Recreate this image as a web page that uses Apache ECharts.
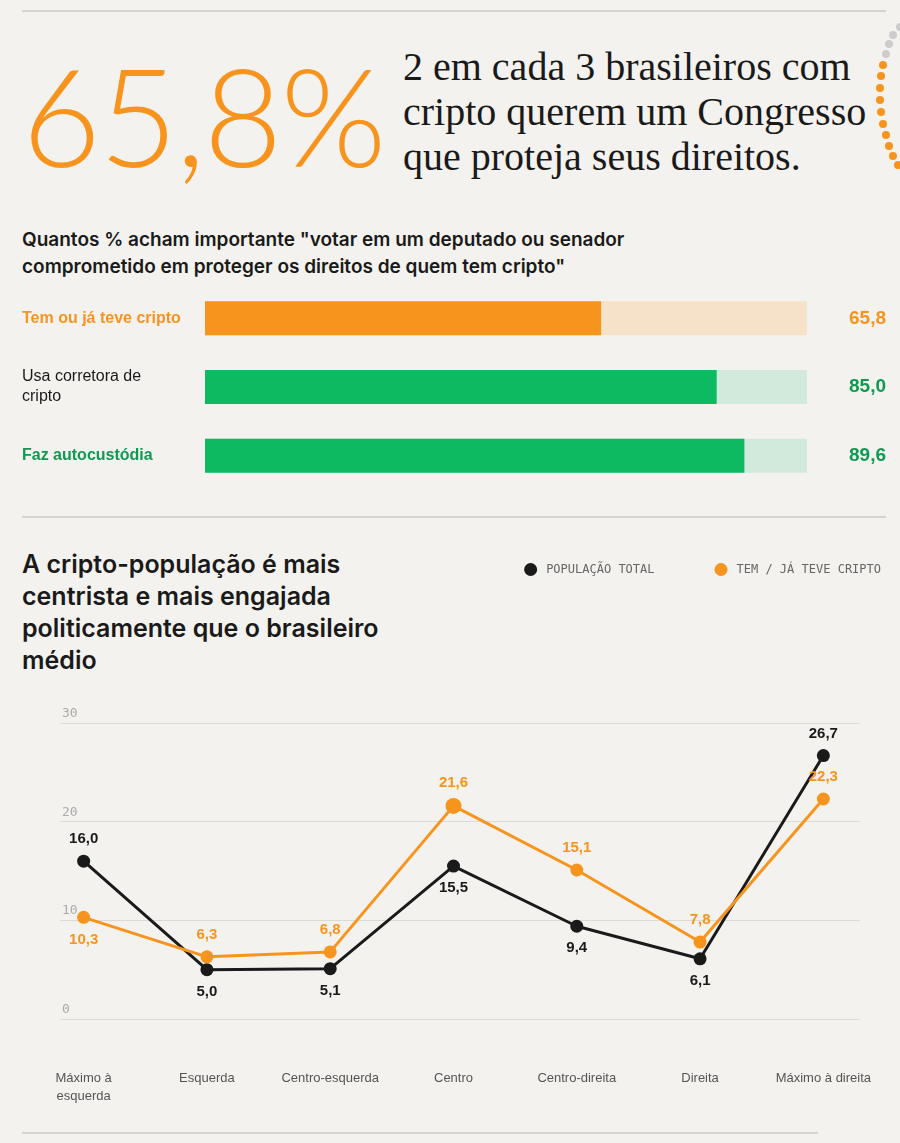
<!DOCTYPE html>
<html><head><meta charset="utf-8">
<script src="https://cdn.jsdelivr.net/npm/echarts@6/dist/echarts.min.js"></script>
<style>
body{margin:0;background:#f4f2ee;width:900px;height:1143px;position:relative;overflow:hidden;font-family:Inter,"Noto Sans",sans-serif;}
.hr{position:absolute;height:2px;background:#d6d4cf;}
#big{position:absolute;left:22px;top:40px;font-family:"Lato","Open Sans",sans-serif;font-weight:300;font-size:136px;line-height:150px;color:#f7941d;letter-spacing:-2px;}
#sub{position:absolute;left:403px;top:44px;font-family:"Liberation Serif",serif;font-size:40px;line-height:45px;color:#1a1a1a;}
#q{position:absolute;left:22px;top:226px;font-size:19px;font-weight:600;line-height:27px;color:#1a1a1a;}
#h2{position:absolute;left:22px;top:548px;font-size:25px;font-weight:600;line-height:32px;color:#1a1a1a;}
.dot{position:absolute;width:8px;height:8px;border-radius:4px;}
</style></head><body>
<div class="hr" style="left:22px;top:10px;width:864px"></div>
<div class="hr" style="left:22px;top:516px;width:864px"></div>
<div class="hr" style="left:22px;top:1132px;width:796px"></div>
<div id="big">65,8%</div>
<div id="sub">2 em cada 3 brasileiros com<br>cripto querem um Congresso<br>que proteja seus direitos.</div>
<div id="q">Quantos % acham importante "votar em um deputado ou senador<br>comprometido em proteger os direitos de quem tem cripto"</div>
<div id="h2">A cripto-população é mais<br>centrista e mais engajada<br>politicamente que o brasileiro<br>médio</div>
<div id="dots"></div>
<div id="bars" style="position:absolute;left:0;top:284px;width:900px;height:206px"></div>
<div id="line" style="position:absolute;left:0;top:540px;width:900px;height:580px"></div>
<script>
// decorative dots
(function(){var d=document.getElementById('dots');var pts=[[900,27,'#ccc'],[893,35,'#ccc'],[889,44,'#ccc'],[886,54,'#ccc'],[883,65,'#f7941d'],[881,76,'#f7941d'],[880,88,'#f7941d'],[880,100,'#f7941d'],[881,112,'#f7941d'],[883,124,'#f7941d'],[886,135,'#f7941d'],[889,146,'#f7941d'],[893,156,'#f7941d'],[898,165,'#f7941d']];
pts.forEach(function(p){var e=document.createElement('div');e.className='dot';e.style.left=(p[0]-4)+'px';e.style.top=(p[1]-4)+'px';e.style.background=p[2];d.appendChild(e);});})();

var barCats=['Tem ou já teve cripto','Usa corretora de\ncripto','Faz autocustódia'];
var barValues=[65.8,85.0,89.6];
var barColors=['#f7941d','#0dba62','#0dba62'];
var trackColors=['#f6e2c8','#d2eadb','#d2eadb'];

var categories=['Máximo à\nesquerda','Esquerda','Centro-esquerda','Centro','Centro-direita','Direita','Máximo à direita'];
var popTotal=[16.0,5.0,5.1,15.5,9.4,6.1,26.7];
var temCripto=[10.3,6.3,6.8,21.6,15.1,7.8,22.3];
var yTicks=[0,10,20,30];
var popPos=['top','bottom','bottom','bottom','bottom','bottom','top'];
var critPos=['bottom','top','top','top','top','top','top'];

function fmt(v){return v.toFixed(1).replace('.',',');}

var bc=echarts.init(document.getElementById('bars'));
bc.setOption({
  grid:{left:205,width:602,top:0,bottom:0},
  xAxis:{type:'value',min:0,max:100,show:false},
  yAxis:[{type:'category',data:barCats,inverse:true,axisLine:{show:false},axisTick:{show:false},
    axisLabel:{align:'left',margin:183,fontSize:16,lineHeight:20,
      formatter:function(v,i){return '{s'+i+'|'+v+'}';},
      rich:{s0:{color:'#f7941d',fontWeight:600,fontSize:16},s1:{color:'#1a1a1a',fontSize:16,lineHeight:20},s2:{color:'#0f9a52',fontWeight:600,fontSize:16}}}},
   {type:'category',data:barValues.map(fmt),inverse:true,position:'right',axisLine:{show:false},axisTick:{show:false},
    axisLabel:{align:'right',margin:79,fontSize:19,fontWeight:700,
      formatter:function(v,i){return '{s'+i+'|'+v+'}';},
      rich:{s0:{color:'#f7941d',fontSize:19,fontWeight:700},s1:{color:'#0f9a52',fontSize:19,fontWeight:700},s2:{color:'#0f9a52',fontSize:19,fontWeight:700}}}}],
  series:[
   {type:'bar',barWidth:34,barGap:'-100%',silent:true,data:barValues.map(function(v,i){return {value:100,itemStyle:{color:trackColors[i]}};})},
   {type:'bar',barWidth:34,data:barValues.map(function(v,i){return {value:v,itemStyle:{color:barColors[i]}};})}
  ]
});

var lc=echarts.init(document.getElementById('line'));
lc.setOption({
  legend:{top:18,right:14,itemGap:60,icon:'circle',itemWidth:13,itemHeight:13,
    textStyle:{fontFamily:'DejaVu Sans Mono',fontSize:12,color:'#666',padding:[0,0,0,4]},
    data:['POPULAÇÃO TOTAL','TEM / JÁ TEVE CRIPTO']},
  grid:[{left:60,width:800,top:183,height:296},{left:22,width:863,top:183,height:296}],
  xAxis:[{gridIndex:0,type:'value',show:false,min:0,max:1},
    {gridIndex:1,type:'category',data:categories,axisLine:{show:false},axisTick:{show:false},
     axisLabel:{margin:50,color:'#555',fontSize:13,lineHeight:18,interval:0}}],
  yAxis:[{gridIndex:0,type:'value',min:0,max:30,interval:10,axisLine:{show:false},axisTick:{show:false},
     splitLine:{lineStyle:{color:'#dcdad5',width:1}},
     axisLabel:{inside:true,verticalAlign:'bottom',margin:2,padding:[0,0,3,0],color:'#aaa',fontFamily:'DejaVu Sans Mono',fontSize:13}},
    {gridIndex:1,type:'value',min:0,max:30,show:false}],
  series:[
   {name:'POPULAÇÃO TOTAL',type:'line',xAxisIndex:1,yAxisIndex:1,color:'#1a1a1a',symbol:'circle',symbolSize:13,
    lineStyle:{width:3,color:'#1a1a1a'},itemStyle:{color:'#1a1a1a'},z:3,
    data:popTotal.map(function(v,i){return {value:v,label:{position:popPos[i]}};}),
    label:{show:true,formatter:function(p){return fmt(p.value);},color:'#1a1a1a',fontSize:15,fontWeight:600,distance:8}},
   {name:'TEM / JÁ TEVE CRIPTO',type:'line',xAxisIndex:1,yAxisIndex:1,color:'#f7941d',symbol:'circle',symbolSize:13,
    lineStyle:{width:3,color:'#f7941d'},itemStyle:{color:'#f7941d'},z:4,
    data:temCripto.map(function(v,i){return {value:v,label:{position:critPos[i]},symbolSize:i===3?16:13};}),
    label:{show:true,formatter:function(p){return fmt(p.value);},color:'#f7941d',fontSize:15,fontWeight:600,distance:8}}
  ]
});
</script>
</body></html>
